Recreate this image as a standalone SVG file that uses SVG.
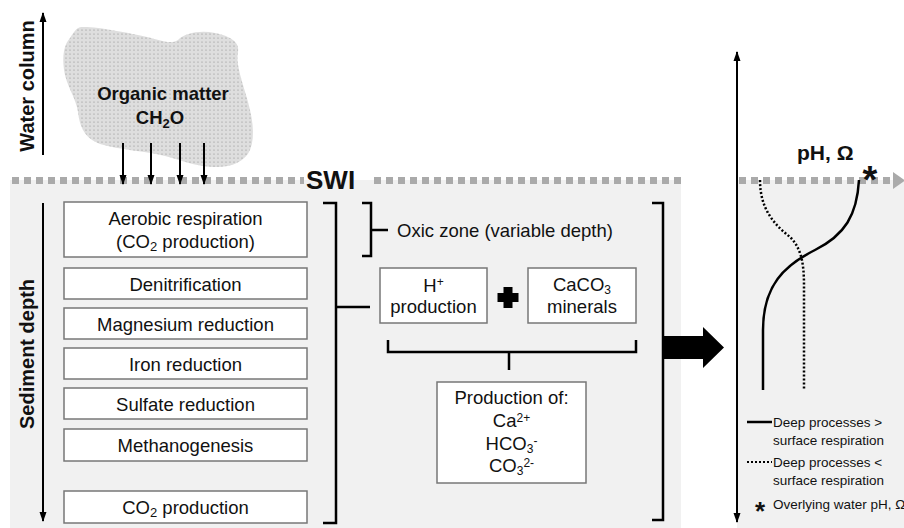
<svg xmlns="http://www.w3.org/2000/svg" width="904" height="528" viewBox="0 0 904 528">
<defs>
<pattern id="dots" width="4" height="4" patternUnits="userSpaceOnUse">
<rect width="4" height="4" fill="#dedede"/>
<circle cx="2" cy="2" r="0.6" fill="#8a8a8a"/>
</pattern>
<marker id="ah" markerWidth="10" markerHeight="10" refX="9" refY="5" orient="auto" markerUnits="userSpaceOnUse">
<path d="M0,1.5 L10,5 L0,8.5 Z" fill="#000"/>
</marker>
<style>
text{font-family:"Liberation Sans",Arial,sans-serif;fill:#111}
.t{font-size:18.5px;text-anchor:middle}
.b{font-weight:bold}
.box{fill:#fff;stroke:#777;stroke-width:1.5}
.br{fill:none;stroke:#000;stroke-width:2.5}
.ax{stroke:#000;stroke-width:2;fill:none}
.swi{stroke:#aaa;stroke-width:7;stroke-dasharray:7 5;fill:none}
.lg{font-size:13.5px}
.sub{font-size:12px}
</style>
</defs>
<rect width="904" height="528" fill="#fff"/>
<rect x="10" y="180" width="671" height="348" fill="#f1f1f1"/>
<rect x="737" y="180" width="167" height="348" fill="#f1f1f1"/>

<g id="swi">
<line class="swi" x1="12" y1="180.5" x2="304" y2="180.5"/>
<line class="swi" x1="374" y1="180.5" x2="682" y2="180.5"/>
<line class="swi" x1="739" y1="180.5" x2="894" y2="180.5"/>
<polygon points="893,172 905,180.5 893,189" fill="#aaa"/>
<text x="306" y="189" class="b" style="font-size:26px">SWI</text>
</g>

<g id="axes">
<line class="ax" x1="43" y1="155" x2="43" y2="13" marker-end="url(#ah)"/>
<text class="b" style="font-size:20px;text-anchor:middle" transform="translate(34,86) rotate(-90)">Water column</text>
<line class="ax" x1="43" y1="203" x2="43" y2="521" marker-end="url(#ah)"/>
<text class="b" style="font-size:20px;text-anchor:middle" transform="translate(34,354) rotate(-90)">Sediment depth</text>
<line class="ax" x1="737" y1="516" x2="737" y2="52" marker-end="url(#ah)"/>
<line class="ax" x1="737" y1="60" x2="737" y2="522" marker-end="url(#ah)"/>
</g>

<g id="organic">
<path d="M81,27 C95,26 130,33 147,37 C160,40 170,45 178,40 C185,33 200,30 215,33 C230,36 240,42 238,52 C236,62 240,75 246,95 C252,115 256,135 250,150 C245,162 230,168 213,167 C195,166 180,160 165,156 C145,151 120,150 100,144 C85,138 80,128 78,112 C76,98 66,85 64,70 C62,55 64,45 70,38 C74,32 76,28 81,27 Z" fill="url(#dots)"/>
<text x="163" y="100" class="t b" style="font-size:18.5px">Organic matter</text>
<text x="160" y="124" class="t b" style="font-size:18.5px">CH<tspan dy="4" style="font-size:13px">2</tspan><tspan dy="-4">O</tspan></text>
</g>

<g id="connectors">
<line class="ax" x1="123" y1="143" x2="123" y2="184" marker-end="url(#ah)"/>
<line class="ax" x1="151" y1="143" x2="151" y2="184" marker-end="url(#ah)"/>
<line class="ax" x1="180" y1="143" x2="180" y2="184" marker-end="url(#ah)"/>
<line class="ax" x1="204" y1="143" x2="204" y2="184" marker-end="url(#ah)"/>
<path class="br" d="M323,203 H336 V523 H323 M336,307 H370"/>
<path class="br" d="M362,203 H371 V256 H362 M371,230 H388"/>
<path class="br" d="M388,340 V352 H636 V340 M509,352 V370"/>
<path class="br" d="M652,203 H663 V520 H652"/>
<polygon points="663,336 703,336 703,327 724,347.5 703,368 703,359 663,359" fill="#000"/>
</g>

<g id="aerobic"><rect class="box" x="64" y="202" width="243" height="55"/>
<text x="185.5" y="225" class="t">Aerobic respiration</text>
<text x="185.5" y="248" class="t">(CO<tspan dy="3" style="font-size:13px">2</tspan><tspan dy="-3"> production)</tspan></text></g>
<g id="denit"><rect class="box" x="64" y="268" width="243" height="31"/><text x="185.5" y="290.5" class="t">Denitrification</text></g>
<g id="mg"><rect class="box" x="64" y="308" width="243" height="31"/><text x="185.5" y="330.5" class="t">Magnesium reduction</text></g>
<g id="fe"><rect class="box" x="64" y="348" width="243" height="31"/><text x="185.5" y="370.5" class="t">Iron reduction</text></g>
<g id="so4"><rect class="box" x="64" y="388" width="243" height="31"/><text x="185.5" y="410.5" class="t">Sulfate reduction</text></g>
<g id="meth"><rect class="box" x="64" y="429" width="243" height="32"/><text x="185.5" y="451.5" class="t">Methanogenesis</text></g>
<g id="co2"><rect class="box" x="64" y="491" width="243" height="32"/><text x="185.5" y="513.5" class="t">CO<tspan dy="3" style="font-size:13px">2</tspan><tspan dy="-3"> production</tspan></text></g>

<g id="oxic"><text x="397" y="237" style="font-size:18.5px">Oxic zone (variable depth)</text></g>

<g id="hplus"><rect class="box" x="380" y="268" width="107" height="55"/>
<text x="433.5" y="292" class="t">H<tspan dy="-6" class="sub">+</tspan></text>
<text x="433.5" y="313" class="t">production</text></g>
<g id="plus"><path d="M503.5,287 h9 v6 h6 v9 h-6 v6 h-9 v-6 h-6 v-9 h6 z" fill="#000"/></g>
<g id="caco3"><rect class="box" x="528" y="268" width="108" height="55"/>
<text x="582" y="291" class="t">CaCO<tspan dy="3" class="sub">3</tspan></text>
<text x="582" y="313" class="t">minerals</text></g>

<g id="prod"><rect class="box" x="437" y="382" width="149" height="101"/>
<text x="511.5" y="404" class="t">Production of:</text>
<text x="511.5" y="427" class="t">Ca<tspan dy="-5" class="sub">2+</tspan></text>
<text x="511.5" y="450" class="t">HCO<tspan dy="3" class="sub">3</tspan><tspan dy="-8" class="sub">-</tspan></text>
<text x="511.5" y="472" class="t">CO<tspan dy="3" class="sub">3</tspan><tspan dy="-8" class="sub">2-</tspan></text></g>

<g id="profile">
<text x="797" y="160" class="b" style="font-size:21px">pH, Ω</text>
<text x="870" y="193" class="b" style="font-size:38px;text-anchor:middle">*</text>
<path d="M859,180 C857,215 845,235 815,250 C785,265 763,285 763,330 L763,390" fill="none" stroke="#000" stroke-width="2.5"/>
<path d="M760,180 C760,210 775,225 790,237 C800,247 804,260 804,285 L804,390" fill="none" stroke="#000" stroke-width="2.5" stroke-dasharray="2 2"/>
</g>

<g id="legend">
<line x1="747" y1="422" x2="772" y2="422" stroke="#000" stroke-width="2.5"/>
<text x="773" y="427" class="lg">Deep processes &gt;</text>
<text x="773" y="445" class="lg">surface respiration</text>
<line x1="747" y1="462" x2="772" y2="462" stroke="#000" stroke-width="2" stroke-dasharray="2 2"/>
<text x="773" y="467" class="lg">Deep processes &lt;</text>
<text x="773" y="485" class="lg">surface respiration</text>
<text x="760" y="520" class="b" style="font-size:26px;text-anchor:middle">*</text>
<text x="773" y="509" class="lg">Overlying water pH, Ω</text>
</g>
</svg>
